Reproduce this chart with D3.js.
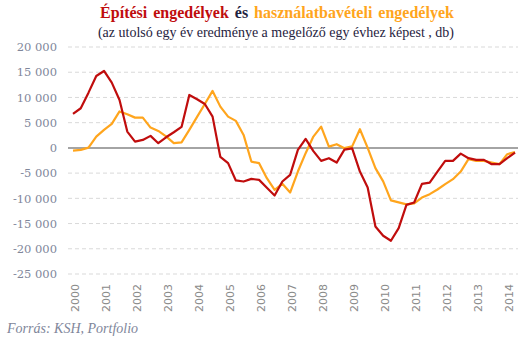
<!DOCTYPE html>
<meta charset="utf-8">
<script src="https://d3js.org/d3.v7.min.js"></script>
<style>
  body { margin: 0; background: #fff; }
  svg { display: block; }
</style>
<body>
<div id="chart"></div>
<script>

// quarterly values, 2000 Q1 .. 2014 Q2
var years = d3.range(2000, 2015);
var yTicks = [20000, 15000, 10000, 5000, 0, -5000, -10000, -15000, -20000, -25000];

var epitesi = [
  6730, 7860, 10950, 14260, 15250, 12930, 9500, 3230, 1250, 1580,
  2380, 930, 2100, 3100, 4150, 10490, 9640, 8700, 6200, -1800,
  -3030, -6450, -6670, -6150, -6340, -7900, -9440, -6670, -5350, -400,
  1780, -650, -2570, -2040, -2910, -350, -100, -4690, -7860, -15580,
  -17420, -18410, -15900, -11290, -10830, -7130, -6870, -4690, -2570, -2570,
  -1130, -2040, -2380, -2380, -3230, -3230, -2040, -930
];

var hasznalat = [
  -530, -400, 60, 2240, 3560, 4750, 7230, 6670, 6000, 6000,
  4020, 3370, 2280, 930, 1090, 3560, 6140, 8710, 11290, 8180,
  6200, 5350, 2570, -2710, -3030, -6000, -8320, -7130, -8850, -4690,
  -1050, 2240, 4220, 260, 730, -60, 300, 3700, 0, -4020,
  -6630, -10400, -10790, -11190, -10990, -9840, -9170, -8250, -7190, -6200,
  -4690, -2240, -2570, -2570, -2910, -3230, -1250, -850
];

var W = 531, H = 342;
var red = "#c00d0d", orange = "#ffa51d";

var svg = d3.select("#chart").append("svg")
    .attr("width", W)
    .attr("height", H);

var x = d3.scaleLinear()
    .domain([0, epitesi.length - 1])
    .range([73, 515]);

var y = d3.scaleLinear()
    .domain([-25000, 20000])
    .range([274, 47]);

// gridlines
svg.append("g")
  .selectAll("line")
  .data(yTicks.filter(function(d) { return d !== 0; }))
  .enter().append("line")
    .attr("x1", 68).attr("x2", 518)
    .attr("y1", function(d) { return y(d); })
    .attr("y2", function(d) { return y(d); })
    .style("stroke", "#d9d9d9")
    .style("stroke-width", 1)
    .style("stroke-dasharray", "4,3");

svg.append("line")
    .attr("x1", 68).attr("x2", 518)
    .attr("y1", y(0)).attr("y2", y(0))
    .style("stroke", "#868686")
    .style("stroke-width", 1.5);

// y axis labels
var fmt = function(d) {
  return d3.format(",")(d).replace(/,/g, " ").replace("−", "-");
};
var yAxis = d3.axisLeft(y)
    .tickValues(yTicks)
    .tickSize(0)
    .tickPadding(0)
    .tickFormat(fmt);

svg.append("g")
    .attr("transform", "translate(57,0)")
    .call(yAxis)
    .call(function(g) { g.select(".domain").remove(); })
    .selectAll("text")
      .style("font-family", "'DejaVu Serif', serif")
      .style("font-size", "11.5px")
      .style("fill", "#80869a");

// x axis labels, one per year at Q1
svg.append("g")
  .selectAll("text")
  .data(years)
  .enter().append("text")
    .attr("transform", function(d) {
      return "translate(" + (x((d - 2000) * 4) + 6) + ",284) rotate(-90)";
    })
    .style("text-anchor", "end")
    .style("font-family", "'DejaVu Sans', sans-serif")
    .style("font-size", "11px")
    .style("fill", "#8a8a8a")
    .text(function(d) { return d; });

// lines
var line = d3.line()
    .x(function(d, i) { return x(i); })
    .y(function(d) { return y(d); });

svg.append("path")
    .datum(hasznalat)
    .attr("d", line)
    .style("fill", "none")
    .style("stroke", orange)
    .style("stroke-width", 2.2)
    .style("stroke-linejoin", "round");

svg.append("path")
    .datum(epitesi)
    .attr("d", line)
    .style("fill", "none")
    .style("stroke", red)
    .style("stroke-width", 2.2)
    .style("stroke-linejoin", "round");

// title
var title = svg.append("text")
    .attr("x", 277)
    .attr("y", 18)
    .style("text-anchor", "middle")
    .style("font-family", "'Liberation Serif', serif")
    .style("font-weight", "bold")
    .style("font-size", "16px")
    .style("word-spacing", "2px");
title.append("tspan").style("fill", red).text("Építési engedélyek ");
title.append("tspan").style("fill", "#1f2340").text("és ");
title.append("tspan").style("fill", orange).text("használatbavételi engedélyek");

svg.append("text")
    .attr("x", 276)
    .attr("y", 37)
    .style("text-anchor", "middle")
    .style("font-family", "'Liberation Serif', serif")
    .style("font-size", "14px")
    .style("fill", "#1f2340")
    .text("(az utolsó egy év eredménye a megelőző egy évhez képest , db)");

// source
svg.append("text")
    .attr("x", 7)
    .attr("y", 333)
    .style("font-family", "'Liberation Serif', serif")
    .style("font-style", "italic")
    .style("font-size", "14px")
    .style("fill", "#80869a")
    .text("Forrás: KSH, Portfolio");

</script>
</body>
